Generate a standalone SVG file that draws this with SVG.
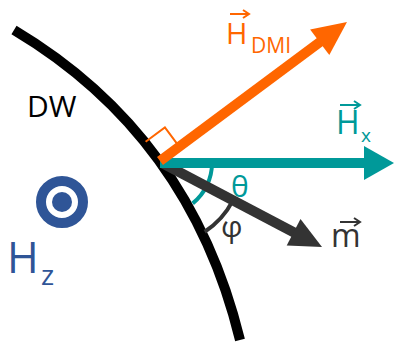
<svg xmlns="http://www.w3.org/2000/svg" width="394" height="344" viewBox="0 0 394 344">
<style>
text{font-family:"Open Sans","Liberation Sans",sans-serif}
.or{fill:#FF6600}.te{fill:#009999}.dk{fill:#333333}.bl{fill:#2F5597}
.vec{fill:none;stroke-width:2}
</style>
<rect width="394" height="344" fill="#fff"/>
<g id="dw">
<path d="M14,30 Q190,135 240,340" fill="none" stroke="#000" stroke-width="10"/>
<text x="27" y="117" font-size="30" fill="#000">DW</text>
</g>
<g id="connectors">
<polyline points="145.6,141.8 164.9,127.4 179.2,146.6" fill="none" stroke="#FF6600" stroke-width="2"/>
<path d="M212,163 A52,52 0 0 1 192.7,203.4" fill="none" stroke="#009999" stroke-width="4"/>
<path d="M232.8,200.7 A82,82 0 0 1 204.7,231.8" fill="none" stroke="#333333" stroke-width="4"/>
<line x1="162" y1="163" x2="296" y2="233.5" stroke="#333333" stroke-width="10"/>
<polygon class="dk" points="322,247 286.7,245.6 300.5,219"/>
<line x1="160" y1="163" x2="366" y2="163" stroke="#009999" stroke-width="10"/>
<polygon class="te" points="394,163 364,146 364,180"/>
<line x1="160" y1="161" x2="322" y2="40.5" stroke="#FF6600" stroke-width="10"/>
<polygon class="or" points="347,22 329.3,55.1 310.1,29.5"/>
</g>
<g id="hdmi">
<path class="vec" d="M230,14 H248 M243,10 L249,14 L243,18" stroke="#FF6600"/>
<text x="226" y="44" font-size="29" class="or">H</text>
<text x="251" y="53" font-size="21" class="or">DMI</text>
</g>
<g id="hx">
<path class="vec" d="M340,105 H359 M354,101 L360,105 L354,109" stroke="#009999"/>
<text x="336" y="134" font-size="32" class="te">H</text>
<text x="361" y="142" font-size="19" class="te">x</text>
</g>
<g id="m">
<path class="vec" d="M340,222 H359 M354,218 L360,222 L354,226" stroke="#333333"/>
<text x="331" y="247" font-size="32" class="dk">m</text>
</g>
<g id="theta"><text x="231" y="197" font-size="30" class="te">θ</text></g>
<g id="phi"><text x="221" y="237" font-size="30" class="dk">φ</text></g>
<g id="hz">
<circle cx="62" cy="202" r="21" fill="none" stroke="#2F5597" stroke-width="10"/>
<circle cx="62" cy="202" r="10" class="bl"/>
<text x="7" y="273" font-size="43" class="bl">H</text>
<text x="41" y="285" font-size="28" class="bl">z</text>
</g>
</svg>
